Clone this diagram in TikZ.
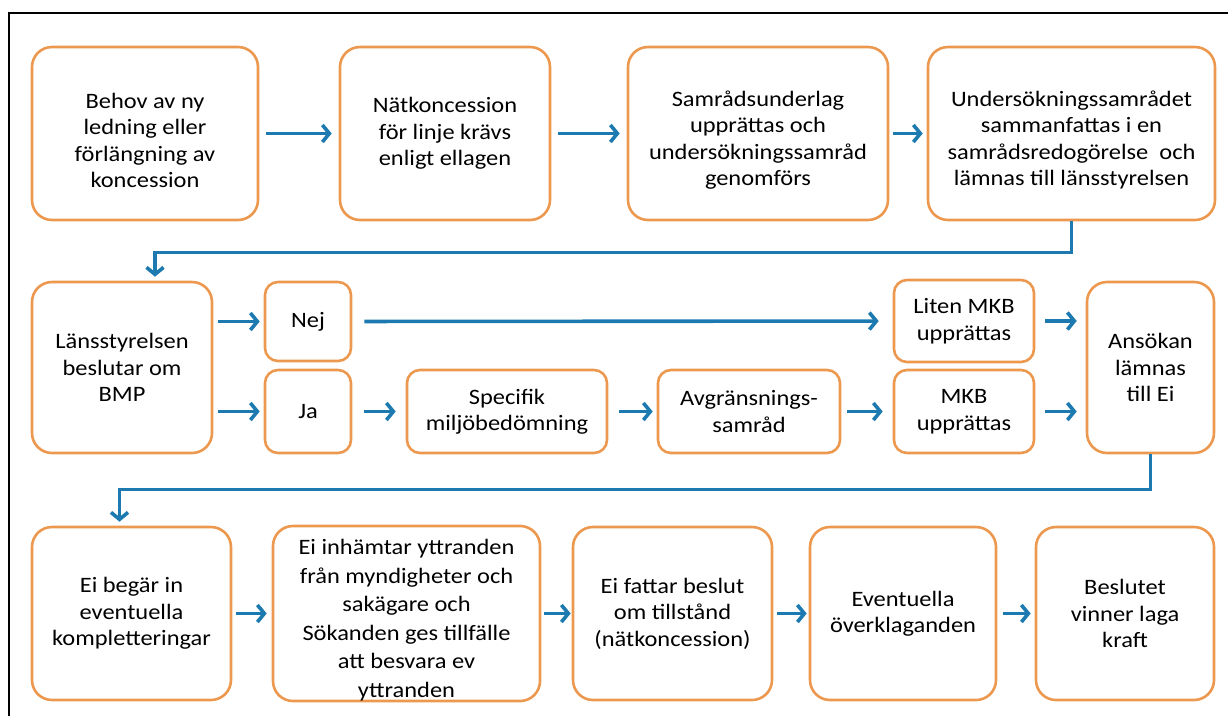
\documentclass[tikz,border=0pt]{standalone}
\usepackage{fontspec}
\setmainfont{Carlito}[FakeStretch=1.11]
\usetikzlibrary{arrows.meta}

\definecolor{boxorange}{RGB}{236,152,78}
\definecolor{flowblue}{RGB}{28,122,176}

% pushes a text block a bit down in its box
\newcommand{\dropline}{\rule{0pt}{29pt}}

\tikzset{
  smallbox/.style={draw=boxorange, line width=2.6pt, rounded corners=13pt, fill=white,
    align=center, inner sep=0pt, font=\fontsize{22}{26.5}\selectfont},
  box/.style={smallbox, rounded corners=20pt},
  flow/.style={draw=flowblue, line width=3.6pt, shorten <=7pt, shorten >=7pt,
    -{Straight Barb[length=7pt,width=17pt]}},
}

\begin{document}
\begin{tikzpicture}[x=1pt,y=-1pt]
\useasboundingbox (0,0) rectangle (1228,716);
\draw[line width=1.3pt] (9,716) -- (9,13) -- (1228,13);

% first row
\begin{scope}[name prefix = r1-, every node/.append style={box, minimum height=173pt}]
    \node[minimum width=226pt] (A) at (145,133.5) {\dropline Behov av ny\\ledning eller\\förlängning av\\koncession};
    \node[minimum width=210pt] (B) at (445,133.5) {Nätkoncession\\för linje krävs\\enligt ellagen};
    \node[minimum width=260pt] (C) at (758,133.5) {\dropline Samrådsunderlag\\upprättas och\\undersökningssamråd\\genomförs};
    \node[minimum width=287pt] (D) at (1071.5,133.5) {\dropline Undersökningssamrådet\\sammanfattas i en\\samrådsredogörelse\ \ och\\lämnas till länsstyrelsen};
    \draw[flow] (A) -- (B);
    \draw[flow] (B) -- (C);
    \draw[flow, shorten <=4pt, shorten >=4pt] (C) -- (D);
\end{scope}

% second row
\begin{scope}[name prefix = r2-, every node/.append style={minimum height=83pt}]
    \node[box, minimum width=180pt, minimum height=171pt] (A) at (122,367.5) {Länsstyrelsen\\beslutar om\\BMP};
    \node[smallbox, minimum width=86pt, minimum height=79pt] (B) at (308,321.5) {Nej};
    \node[smallbox, minimum width=86pt] (C) at (308,411.5) {Ja};
    \node[smallbox, minimum width=200pt] (D) at (507,411.5) {Specifik\\miljöbedömning};
    \node[smallbox, minimum width=182pt] (E) at (749,411.5) {Avgränsnings-\\samråd};
    \node[smallbox, minimum width=140pt] (F) at (964,411.5) {MKB\\upprättas};
    \node[smallbox, minimum width=140pt, minimum height=82pt] (G) at (964,321) {Liten MKB\\upprättas};
    \node[box, minimum width=127pt, minimum height=171pt] (H) at (1150.5,367.5) {Ansökan\\lämnas\\till Ei};
    \draw[flow, shorten <=5pt, shorten >=4pt] (A.east |- B.west) -- (B.west);
    \draw[flow, shorten <=5pt, shorten >=4pt] (A.east |- C.west) -- (C.west);
    \draw[flow, shorten <=12pt, shorten >=14pt] (B) -- (G);
    \draw[flow, shorten <=12pt, shorten >=10pt] (C) -- (D);
    \draw[flow, shorten <=11pt, shorten >=4pt] (D) -- (E);
    \draw[flow, shorten <=6pt, shorten >=10pt] (E) -- (F);
    \draw[flow, shorten <=10pt, shorten >=9pt] (G.east) -- (G.east -| H.west);
    \draw[flow, shorten <=10pt, shorten >=9pt] (F.east) -- (F.east -| H.west);
\end{scope}

% third row
\begin{scope}[name prefix = r3-, every node/.append style={box, minimum height=173pt}]
    \node[minimum width=199pt] (A) at (131.5,613.5) {Ei begär in\\eventuella\\kompletteringar};
    \node[minimum width=267pt, font=\fontsize{22}{28.5}\selectfont] (B) at (406.5,613.5) {\dropline Ei inhämtar yttranden\\från myndigheter och\\sakägare och\\Sökanden ges tillfälle\\att besvara ev\\yttranden};
    \node[minimum width=199pt] (C) at (672.5,613.5) {Ei fattar beslut\\om tillstånd\\(nätkoncession)};
    \node[minimum width=186pt] (D) at (903,613.5) {Eventuella\\överklaganden};
    \node[minimum width=178pt] (E) at (1125,613.5) {Beslutet\\vinner laga\\kraft};
    \draw[flow, shorten <=4pt, shorten >=5pt] (A) -- (B);
    \draw[flow, shorten <=3pt, shorten >=1pt] (B) -- (C);
    \draw[flow, shorten <=4pt, shorten >=2pt] (C) -- (D);
    \draw[flow, shorten <=6pt, shorten >=4pt] (D) -- (E);
\end{scope}

% connectors between the rows
\draw[flow, shorten <=0pt, shorten >=4pt] (r1-D.south) -- ++(0,31) -| ([xshift=33pt]r2-A.north);
\draw[flow, shorten <=0pt, shorten >=4pt] (r2-H.south) -- ++(0,35) -| ([xshift=-12pt]r3-A.north);

\end{tikzpicture}
\end{document}
